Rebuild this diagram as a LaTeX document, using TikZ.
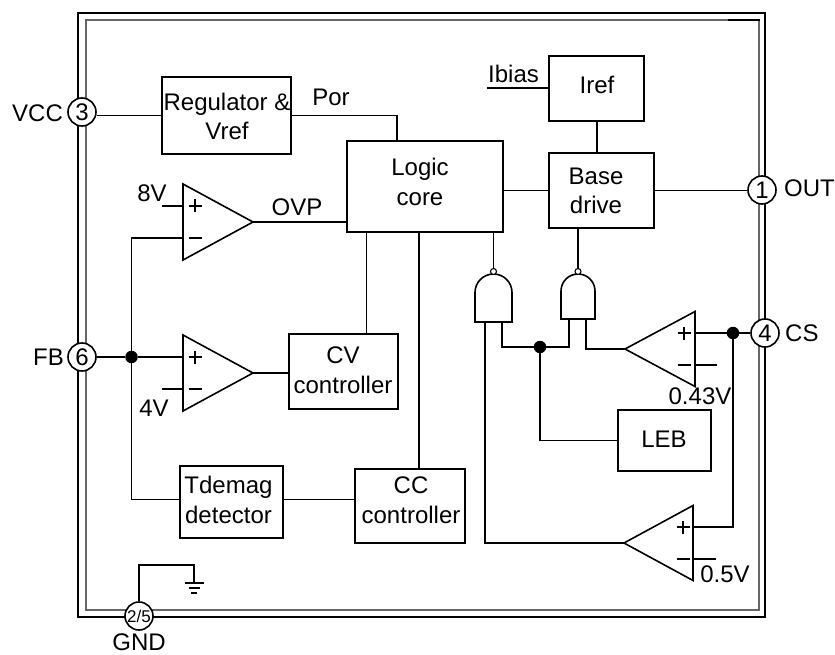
\documentclass[tikz,border=0pt]{standalone}
\usepackage{fontspec}
\setmainfont{Liberation Sans}
\usetikzlibrary{calc}
\newcommand{\bigtext}{\fontsize{24}{29.5}\selectfont}
\tikzset{
  x=1pt,y=-1pt,
  wire/.style={draw=black,line width=1.6pt,line join=miter},
  box/.style={draw=black,line width=1.6pt,fill=white,inner sep=0pt,align=center,font=\bigtext},
  pin/.style={circle,draw=black,line width=1.6pt,fill=white,inner sep=0pt,minimum size=28pt,font=\fontsize{24}{28}\selectfont},
  smallpin/.style={pin,font=\fontsize{17}{18}\selectfont},
  lbl/.style={inner sep=0pt,font=\bigtext},
  dot/.style={circle,fill=black,inner sep=0pt,minimum size=12.5pt},
  bubble/.style={circle,draw=black,line width=1.1pt,fill=white,inner sep=0pt,minimum size=6pt},
}
% #1 name, #2 tip x, #3 tip y, #4 base x, #5 half height, #6 sign x, #7 + y, #8 - y
\newcommand{\comparator}[8]{%
  \coordinate (#1tip) at (#2,#3);
  \coordinate (#1plus) at (#4,#7);
  \coordinate (#1minus) at (#4,#8);
  \draw[wire,fill=white] (#2,#3) -- (#4,#3-#5) -- (#4,#3+#5) -- cycle;
  \draw[line width=1.6pt] (#6-6.5,#7) -- (#6+6.5,#7) (#6,#7-6.5) -- (#6,#7+6.5);
  \draw[line width=1.6pt] (#6-6.5,#8) -- (#6+6.5,#8);
}
% #1 name, #2 left, #3 right, #4 top of arc, #5 bottom, #6 in1 x, #7 in2 x
\newcommand{\nandgate}[7]{%
  \pgfmathsetmacro{\gr}{(#3-#2)/2}
  \pgfmathsetmacro{\gk}{0.5523*\gr}
  \draw[wire,fill=white] (#2,#5) -- (#2,#4+\gr)
    .. controls (#2,#4+\gr-\gk) and (#2+\gr-\gk,#4) .. (#2+\gr,#4)
    .. controls (#2+\gr+\gk,#4) and (#3,#4+\gr-\gk) .. (#3,#4+\gr)
    -- (#3,#5) -- cycle;
  \coordinate (#1a) at (#6,#5);
  \coordinate (#1b) at (#7,#5);
  \node[bubble] (#1o) at ({(#2+#3)/2},#4-2.5) {};
}
\begin{document}
\begin{tikzpicture}
\useasboundingbox (0,0) rectangle (835,655);
% frame
\draw[line width=1.6pt] (78,13) rectangle (765,617);
\draw[line width=1.2pt,draw=black!60] (86,20) rectangle (759,610);
\draw[line width=2pt] (728,20.5) -- (759.5,20.5);
% boxes
\node[box,minimum width=129pt,minimum height=77pt] (reg) at (226.5,115.5) {};
\node[lbl,align=center] (regtxt) at (227,116.5) {Regulator \&\\Vref};
\node[box,minimum width=156pt,minimum height=91pt] (logic) at (425,186.5) {};
\node[lbl,align=center] (logictxt) at (420,182) {Logic\\core};
\node[box,minimum width=95pt,minimum height=65pt] (iref) at (596.5,88.5) {};
\node[lbl] (ireftxt) at (597,85) {Iref};
\node[box,minimum width=105pt,minimum height=75pt] (base) at (601.5,190.5) {};
\node[lbl,align=center] (basetxt) at (596,191) {Base\\drive};
\node[box,minimum width=109pt,minimum height=75pt] (cv) at (343.5,371.5) {};
\node[lbl,align=center] (cvtxt) at (343,370) {CV\\controller};
\node[box,minimum width=93pt,minimum height=61pt] (leb) at (664.5,440.5) {};
\node[lbl] (lebtxt) at (664,439) {LEB};
\node[box,minimum width=103pt,minimum height=72pt] (tdemag) at (231.5,502) {};
\node[lbl,align=center] (tdemagtxt) at (228.5,500) {Tdemag\\detector};
\node[box,minimum width=110pt,minimum height=74pt] (cc) at (410,506) {};
\node[lbl,align=center] (cctxt) at (411,500) {CC\\controller};
% comparators
\comparator{ovp}{253}{222}{183}{38}{195}{206}{238}
\comparator{cva}{253}{373}{183}{38}{195}{357}{389}
\comparator{csa}{625}{349}{695}{37.5}{684}{333}{365}
\comparator{cca}{624}{543}{693}{37.5}{683}{527}{559}
% gates
\nandgate{ga}{475}{512}{274}{322}{485}{502}
\nandgate{gb}{561}{595}{274}{319}{569}{586}
% junctions and free ends
\coordinate (ibiasend) at (487,88);
\coordinate (v8) at (162,206);
\coordinate (v4) at (162,389);
\coordinate (v43) at (717,365);
\coordinate (v05) at (716,559);
\coordinate (leftbus) at (131.5,238);
\coordinate (gndup) at (139,565);
\coordinate (gndr) at (194,565);
\coordinate (gnd) at (194,583);
\coordinate (tdw) at (tdemag.west |- 0,499.5);
\coordinate (tde) at (tdemag.east |- 0,499.5);
% pins
\node[pin] (p3) at (82,112) {3};
\node[pin] (p6) at (82,357) {6};
\node[pin] (p1) at (762,190) {1};
\node[pin] (p4) at (765,333) {4};
\node[smallpin] (p25) at (139,616) {2/5};
\node[dot] (jfb) at (131.5,357) {};
\node[dot] (jcs) at (733,333) {};
\node[dot] (jleb) at (540,347) {};
% wires
\draw[wire] (p3.east |- reg.west) -- (reg.west);
\draw[wire] (reg.east) -- (reg.east -| 397,0) -- (397,0 |- logic.north);
\draw[wire] (ovptip) -- (ovptip -| logic.west);
\draw[wire] (v8) -- (ovpplus);
\draw[wire] (ovpminus) -- (leftbus) -- (jfb);
\draw[wire] (p6.east |- jfb) -- (jfb) -- (cvaplus);
\draw[wire] (v4) -- (cvaminus);
\draw[wire] (cvatip) -- (cvatip -| cv.west);
\draw[wire] (jfb) -- (jfb |- tdw) -- (tdw);
\draw[wire] (tde) -- (cc.west |- tde);
\draw[wire] (366.5,0 |- logic.south) -- (366.5,0 |- cv.north);
\draw[wire] (419,0 |- logic.south) -- (419,0 |- cc.north);
\draw[wire] (logic.east |- base.west) -- (base.west);
\draw[wire] (base.east) -- (p1.west |- base.east);
\draw[wire] (597,0 |- iref.south) -- (597,0 |- base.north);
\draw[wire] (ibiasend) -- (ibiasend -| iref.west);
\draw[wire] (gao |- logic.south) -- (gao.north);
\draw[wire] (gbo |- base.south) -- (gbo.north);
\draw[wire] (gaa) -- (gaa |- ccatip) -- (ccatip);
\draw[wire] (gab) -- (gab |- jleb) -- (jleb);
\draw[wire] (jleb) -- (jleb -| gba) -- (gba);
\draw[wire] (gbb) -- (gbb |- csatip) -- (csatip);
\draw[wire] (jleb) -- (jleb |- leb.west) -- (leb.west);
\draw[wire] (csaplus) -- (jcs) -- (p4.west);
\draw[wire] (csaminus) -- (v43);
\draw[wire] (jcs) -- (jcs |- ccaplus) -- (ccaplus);
\draw[wire] (ccaminus) -- (v05);
\draw[wire] (p25.north) -- (gndup) -- (gndr) -- (gnd);
% ground symbol
\draw[line width=1.6pt] (gnd) ++(-9.5,0) -- ++(19,0);
\draw[line width=1.6pt] (gnd) ++(-5.5,5) -- ++(11,0);
\draw[line width=1.6pt] (gnd) ++(-3,10) -- ++(6,0);
% labels
\node[lbl,anchor=west] (tvcc) at (12,113) {VCC};
\node[lbl,anchor=west] (tfb) at (33,357) {FB};
\node[lbl,anchor=west] (tout) at (784,188) {OUT};
\node[lbl,anchor=west] (tcs) at (785,333) {CS};
\node[lbl] (tgnd) at (139,642.5) {GND};
\node[lbl] (tpor) at (331,97) {Por};
\node[lbl] (tibias) at (513.5,74) {Ibias};
\node[lbl] (tovp) at (297,207) {OVP};
\node[lbl] (t8v) at (152,193) {8V};
\node[lbl] (t4v) at (154,408) {4V};
\node[lbl] (t043) at (700,396) {0.43V};
\node[lbl] (t05) at (725,574) {0.5V};
\end{tikzpicture}
\end{document}
